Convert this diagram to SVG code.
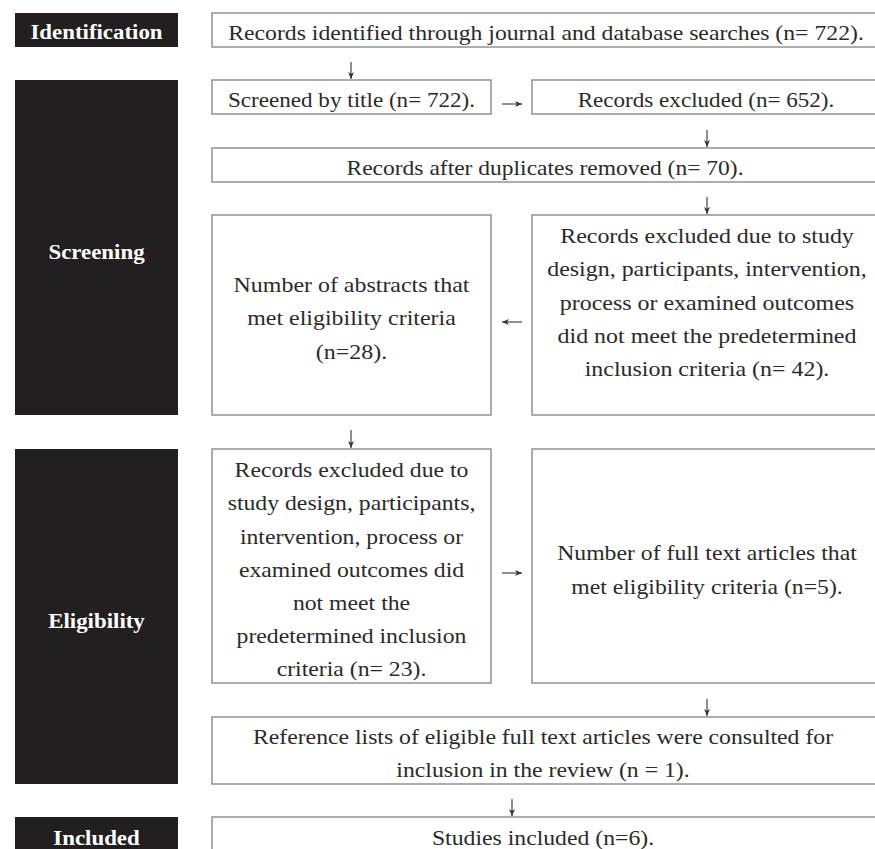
<svg xmlns="http://www.w3.org/2000/svg" width="875" height="849" viewBox="0 0 875 849">
  <style>
    .stage { fill: #231f20; }
    .stage-text { fill: #ffffff; font-family: "Liberation Serif", "Times New Roman", serif; font-size: 21px; font-weight: bold; text-anchor: middle; }
    .box { fill: #ffffff; stroke: #8a8a8a; stroke-width: 1.4; }
    .txt { fill: #2a2a2a; font-family: "Liberation Serif", "Times New Roman", serif; font-size: 21px; text-anchor: middle; }
    .arrow { stroke: #333333; stroke-width: 1.1; fill: none; }
  </style>
  <defs>
    <marker id="head" viewBox="0 0 8 8" refX="7" refY="4" markerWidth="8" markerHeight="8" markerUnits="userSpaceOnUse" orient="auto">
      <path d="M0,1 L7,4 L0,7 L2,4 Z" fill="#333333"/>
    </marker>
  </defs>
  <rect width="875" height="849" fill="#ffffff"/>

  <!-- Stage labels (text widened slightly with a horizontal scale) -->
  <g id="stage-identification">
    <rect class="stage" x="15" y="13" width="163" height="34"/>
    <text class="stage-text" transform="translate(96.5,39) scale(1.09,1)">Identification</text>
  </g>
  <g id="stage-screening">
    <rect class="stage" x="15" y="80" width="163" height="335"/>
    <text class="stage-text" transform="translate(96.5,259) scale(1.09,1)">Screening</text>
  </g>
  <g id="stage-eligibility">
    <rect class="stage" x="15" y="449" width="163" height="335"/>
    <text class="stage-text" transform="translate(96.5,628) scale(1.09,1)">Eligibility</text>
  </g>
  <g id="stage-included">
    <rect class="stage" x="15" y="817" width="163" height="40"/>
    <text class="stage-text" transform="translate(96.5,845) scale(1.09,1)">Included</text>
  </g>

  <!-- Flow boxes -->
  <g id="records-identified">
    <rect class="box" x="212" y="13" width="670" height="34"/>
    <text class="txt" transform="translate(546,40) scale(1.13,1)">Records identified through journal and database searches (n= 722).</text>
  </g>
  <g id="screened-by-title">
    <rect class="box" x="212" y="80" width="279" height="34"/>
    <text class="txt" transform="translate(351.5,107) scale(1.1,1)">Screened by title (n= 722).</text>
  </g>
  <g id="records-excluded-652">
    <rect class="box" x="532" y="80" width="350" height="34"/>
    <text class="txt" transform="translate(706,107) scale(1.1,1)">Records excluded (n= 652).</text>
  </g>
  <g id="after-duplicates">
    <rect class="box" x="212" y="148" width="670" height="34"/>
    <text class="txt" transform="translate(545,175) scale(1.12,1)">Records after duplicates removed (n= 70).</text>
  </g>
  <g id="abstracts-eligible">
    <rect class="box" x="212" y="215" width="279" height="200"/>
    <text class="txt" transform="translate(351.5,292) scale(1.14,1)">Number of abstracts that</text>
    <text class="txt" transform="translate(351.5,325) scale(1.14,1)">met eligibility criteria</text>
    <text class="txt" transform="translate(351.5,359) scale(1.14,1)">(n=28).</text>
  </g>
  <g id="records-excluded-42">
    <rect class="box" x="532" y="215" width="350" height="200"/>
    <text class="txt" transform="translate(707,243) scale(1.14,1)">Records excluded due to study</text>
    <text class="txt" transform="translate(707,276) scale(1.14,1)">design, participants, intervention,</text>
    <text class="txt" transform="translate(707,310) scale(1.14,1)">process or examined outcomes</text>
    <text class="txt" transform="translate(707,343) scale(1.14,1)">did not meet the predetermined</text>
    <text class="txt" transform="translate(707,376) scale(1.14,1)">inclusion criteria (n= 42).</text>
  </g>
  <g id="records-excluded-23">
    <rect class="box" x="212" y="449" width="279" height="234"/>
    <text class="txt" transform="translate(351.5,477) scale(1.13,1)">Records excluded due to</text>
    <text class="txt" transform="translate(351.5,510) scale(1.13,1)">study design, participants,</text>
    <text class="txt" transform="translate(351.5,544) scale(1.13,1)">intervention, process or</text>
    <text class="txt" transform="translate(351.5,577) scale(1.13,1)">examined outcomes did</text>
    <text class="txt" transform="translate(351.5,610) scale(1.13,1)">not meet the</text>
    <text class="txt" transform="translate(351.5,643) scale(1.13,1)">predetermined inclusion</text>
    <text class="txt" transform="translate(351.5,676) scale(1.13,1)">criteria (n= 23).</text>
  </g>
  <g id="full-text-eligible">
    <rect class="box" x="532" y="449" width="350" height="234"/>
    <text class="txt" transform="translate(707,560) scale(1.13,1)">Number of full text articles that</text>
    <text class="txt" transform="translate(707,594) scale(1.13,1)">met eligibility criteria (n=5).</text>
  </g>
  <g id="reference-lists">
    <rect class="box" x="212" y="717" width="670" height="67"/>
    <text class="txt" transform="translate(543,744) scale(1.13,1)">Reference lists of eligible full text articles were consulted for</text>
    <text class="txt" transform="translate(543,777) scale(1.13,1)">inclusion in the review (n = 1).</text>
  </g>
  <g id="studies-included">
    <rect class="box" x="212" y="817" width="670" height="50"/>
    <text class="txt" transform="translate(543,845) scale(1.13,1)">Studies included (n=6).</text>
  </g>

  <!-- Connectors -->
  <g id="connectors">
    <line class="arrow" x1="351" y1="62" x2="351" y2="79" marker-end="url(#head)"/>
    <line class="arrow" x1="502" y1="104" x2="522" y2="104" marker-end="url(#head)"/>
    <line class="arrow" x1="707" y1="130" x2="707" y2="147" marker-end="url(#head)"/>
    <line class="arrow" x1="707" y1="197" x2="707" y2="214" marker-end="url(#head)"/>
    <line class="arrow" x1="522" y1="322" x2="502" y2="322" marker-end="url(#head)"/>
    <line class="arrow" x1="351" y1="430" x2="351" y2="448" marker-end="url(#head)"/>
    <line class="arrow" x1="502" y1="573" x2="522" y2="573" marker-end="url(#head)"/>
    <line class="arrow" x1="707" y1="699" x2="707" y2="716" marker-end="url(#head)"/>
    <line class="arrow" x1="512" y1="799" x2="512" y2="816" marker-end="url(#head)"/>
  </g>
</svg>
